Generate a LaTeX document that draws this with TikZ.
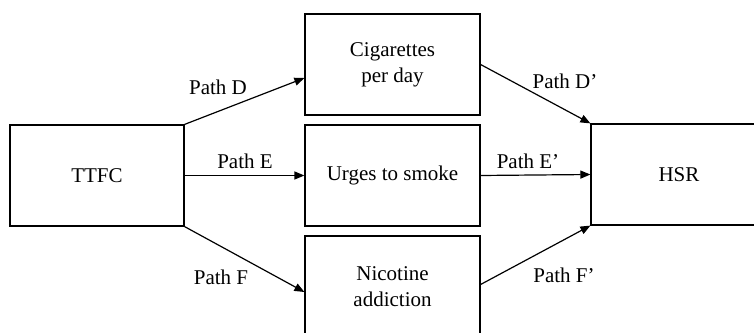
\documentclass[tikz,border=0pt]{standalone}
\usepackage{fontspec}
\setmainfont{Liberation Serif}
\usetikzlibrary{arrows.meta, positioning, calc}

\begin{document}
\begin{tikzpicture}[x=1pt,y=1pt,
    box/.style={draw,line width=1.2pt,minimum width=175pt,minimum height=101pt,
        align=center,inner sep=0pt,font=\fontsize{21}{26}\selectfont},
    link/.style={line width=1.2pt,-{Triangle[length=10pt,width=8pt]}},
    pathlbl/.style={font=\fontsize{21}{26}\selectfont,inner sep=0pt}]
\useasboundingbox (0,0) rectangle (754,332);
% Boxes
\node[box,minimum width=174pt] (ttfc) at (97,156.5) {TTFC};
\node[box] (cig) at (392.5,267.5) {Cigarettes\\per day};
\node[box] (urge) at (392.5,156.5) {Urges to smoke};
\node[box] (nic) at (392.5,45.5) {Nicotine\\addiction};
\node[box,minimum width=176pt] (hsr) at (679,157.5) {HSR};
% Arrow ends
\coordinate (cigIn) at ([yshift=-13.5pt]cig.west);
\coordinate (nicIn) at ([yshift=-5.5pt]nic.west);
% Connections
\draw[link] (ttfc.north east) -- (cigIn);
\draw[link] (ttfc.east) -- (urge.west);
\draw[link] (ttfc.south east) -- (nicIn);
\draw[link] (cig.east) -- (hsr.north west);
\draw[link] (urge.east) -- (hsr.west);
\draw[link] ([yshift=2pt]nic.east) -- (hsr.south west);
% Labels
\node[pathlbl] (lblD) at (218,245) {Path D};
\node[pathlbl] (lblE) at (245,171) {Path E};
\node[pathlbl] (lblF) at (221,55) {Path F};
\node[pathlbl] (lblDp) at (565,251) {Path D’};
\node[pathlbl] (lblEp) at (528,171) {Path E’};
\node[pathlbl] (lblFp) at (564,57) {Path F’};
\end{tikzpicture}
\end{document}
